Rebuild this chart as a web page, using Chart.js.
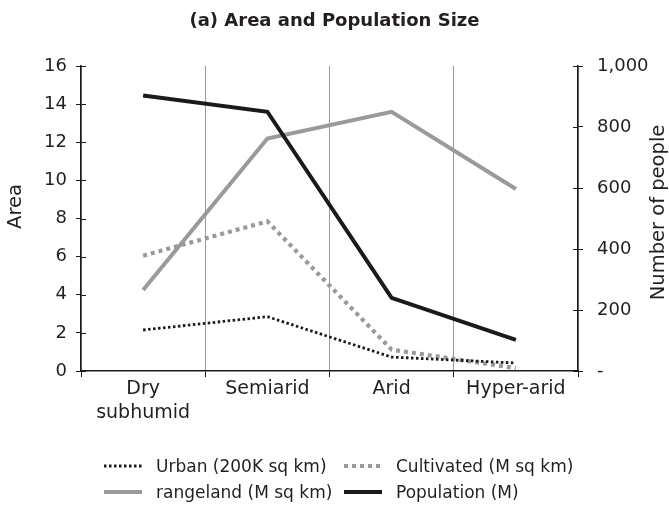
<!DOCTYPE html>
<html>
<head>
<meta charset="utf-8">
<script src="https://cdn.jsdelivr.net/npm/chart.js@4/dist/chart.umd.min.js"></script>
<style>
  html, body { margin: 0; padding: 0; background: #fff; }
  #wrap { position: relative; width: 669px; height: 516px; }
  #legend { position: absolute; left: 0; top: 0; width: 669px; height: 516px; pointer-events: none;
            font-family: "DejaVu Sans", sans-serif; font-size: 17px; color: #231f20; }
  .item { position: absolute; display: flex; align-items: center; white-space: nowrap; height: 22px; }
  .item svg { margin-right: 14px; }
</style>
</head>
<body>
<div id="wrap">
  <canvas id="chart" width="669" height="516"></canvas>
  <div id="legend"></div>
</div>
<script>
// ---- data ----
const categories = [['Dry', 'subhumid'], 'Semiarid', 'Arid', 'Hyper-arid'];
const urban = [2.15, 2.85, 0.73, 0.42];          // 200K sq km, left axis
const cultivated = [6.05, 7.85, 1.12, 0.15];     // M sq km, left axis
const rangeland = [4.25, 12.2, 13.6, 9.55];      // M sq km, left axis
const population = [903, 850, 240, 102];         // M people, right axis
const areaTicks = { min: 0, max: 16, step: 2 };
const peopleTicks = { min: 0, max: 1000, step: 200 };

const TEXT = '#231f20';
const BLACK = '#1a1a1a';
const GRAY = '#9a9a9a';
const FONT = '"DejaVu Sans", sans-serif';

// legend is laid out in two fixed columns, like the figure
function renderLegend(datasets) {
    const box = document.getElementById('legend');
    const slots = [[104, 455], [344, 455], [104, 481], [344, 481]];
    box.innerHTML = datasets.map((ds, i) => {
        const [x, y] = slots[i];
        const dash = ds.borderDash ? ds.borderDash.join(' ') : 'none';
        return `<div class="item" style="left:${x}px;top:${y}px">
            <svg width="38" height="8"><line x1="0" y1="4" x2="38" y2="4" stroke="${ds.borderColor}"
              stroke-width="${ds.borderWidth}" stroke-dasharray="${dash}"/></svg>
            <span>${ds.label}</span></div>`;
    }).join('');
}

// axis titles both read bottom-to-top in the figure
const axisTitles = {
    id: 'axisTitles',
    afterDraw(chart) {
        const { ctx, chartArea } = chart;
        const mid = (chartArea.top + chartArea.bottom) / 2;
        ctx.save();
        ctx.font = '19.5px ' + FONT;
        ctx.fillStyle = TEXT;
        ctx.textAlign = 'center';
        ctx.textBaseline = 'alphabetic';
        [[21, mid - 12, 'Area'], [664, mid - 6, 'Number of people']].forEach(([x, y, t]) => {
            ctx.save();
            ctx.translate(x, y);
            ctx.rotate(-Math.PI / 2);
            ctx.fillText(t, 0, 0);
            ctx.restore();
        });
        ctx.restore();
    }
};

// tick marks that cross the y axes (the inner half)
const innerTicks = {
    id: 'innerTicks',
    afterDraw(chart) {
        const { ctx } = chart;
        ctx.save();
        ctx.strokeStyle = BLACK;
        ctx.lineWidth = 1;
        ['y', 'y1'].forEach(id => {
            const s = chart.scales[id];
            const x = id === 'y' ? s.right : s.left;
            const dir = id === 'y' ? 1 : -1;
            s.ticks.forEach(t => {
                const py = Math.round(s.getPixelForValue(t.value)) + 0.5;
                ctx.beginPath();
                ctx.moveTo(x, py);
                ctx.lineTo(x + dir * 5, py);
                ctx.stroke();
            });
        });
        ctx.restore();
    }
};

const datasets = [
    { label: 'Urban (200K sq km)', data: urban, yAxisID: 'y', borderColor: BLACK, borderWidth: 2.8,
      borderDash: [2.5, 2.5], order: 1 },
    { label: 'Cultivated (M sq km)', data: cultivated, yAxisID: 'y', borderColor: GRAY, borderWidth: 4.2,
      borderDash: [4, 4], order: 2 },
    { label: 'rangeland (M sq km)', data: rangeland, yAxisID: 'y', borderColor: GRAY, borderWidth: 4,
      order: 3 },
    { label: 'Population (M)', data: population, yAxisID: 'y1', borderColor: BLACK, borderWidth: 4,
      order: 0 }
];

new Chart(document.getElementById('chart').getContext('2d'), {
    type: 'line',
    data: {
        labels: categories,
        datasets: datasets.map(ds => Object.assign({ pointRadius: 0, tension: 0, fill: false,
            borderCapStyle: 'butt' }, ds))
    },
    options: {
        responsive: false,
        animation: false,
        layout: { padding: 0 },
        plugins: {
            legend: { display: false },
            tooltip: { enabled: false },
            title: {
                display: true,
                text: '(a) Area and Population Size',
                color: TEXT,
                font: { family: FONT, size: 18, weight: 'bold', lineHeight: 1.2 },
                padding: { top: 11, bottom: 33.4 }
            }
        },
        scales: {
            x: {
                offset: true,
                grid: { offset: true, color: GRAY, lineWidth: 1, tickLength: 6, tickColor: BLACK },
                border: { color: BLACK, width: 1.5 },
                ticks: { color: TEXT, autoSkip: false, maxRotation: 0, padding: 0,
                         font: { family: FONT, size: 19, lineHeight: 1.26 } },
                afterFit(s) { s.height = 145; }
            },
            y: {
                position: 'left',
                min: areaTicks.min, max: areaTicks.max,
                grid: { drawOnChartArea: false, color: BLACK, tickLength: 5 },
                border: { color: BLACK, width: 1.5 },
                ticks: { stepSize: areaTicks.step, color: TEXT, padding: 9,
                         font: { family: FONT, size: 18 } },
                afterFit(s) { s.width = 81; }
            },
            y1: {
                position: 'right',
                min: peopleTicks.min, max: peopleTicks.max,
                grid: { drawOnChartArea: false, color: BLACK, tickLength: 5 },
                border: { color: BLACK, width: 1.5 },
                ticks: { stepSize: peopleTicks.step, color: TEXT, padding: 14,
                         font: { family: FONT, size: 18 },
                         callback: v => v === 0 ? '-' : v.toLocaleString('en-US') },
                afterFit(s) { s.width = 91; }
            }
        }
    },
    plugins: [axisTitles, innerTicks]
});

renderLegend(datasets);
</script>
</body>
</html>
